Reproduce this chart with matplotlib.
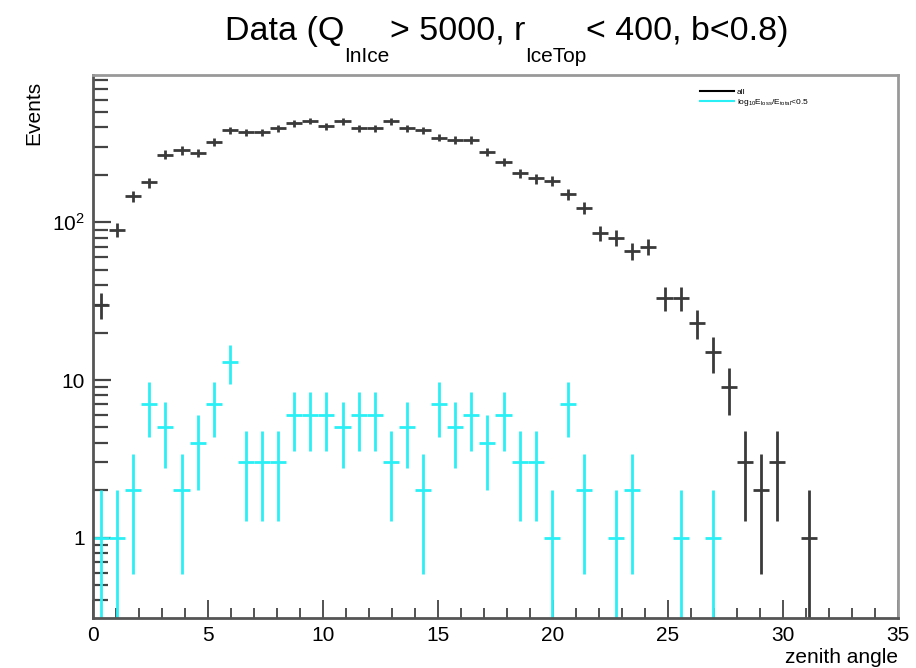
import numpy as np
import matplotlib
matplotlib.use("Agg")
import matplotlib.pyplot as plt
from matplotlib.lines import Line2D
from matplotlib.ticker import FixedLocator, NullFormatter

plt.rcParams["font.family"] = ["Liberation Sans", "DejaVu Sans"]
plt.rcParams["mathtext.fontset"] = "custom"
plt.rcParams["mathtext.rm"] = "Liberation Sans"
plt.rcParams["mathtext.it"] = "Liberation Sans"

# 50 bins of zenith angle from 0 to 35 deg
bin_edges = np.linspace(0, 35, 51)

counts_all = [
    30, 90, 146, 179, 269, 286, 277, 325, 385, 372,
    372, 394, 425, 441, 406, 437, 396, 394, 437, 394,
    385, 345, 332, 333, 279, 242, 205, 190, 184, 151,
    124, 85, 80, 66, 70, 33, 33, 23, 15, 9,
    3, 2, 3, 0, 1, 0, 0, 0, 0, 0,
]
counts_cut = [
    1, 1, 2, 7, 5, 2, 4, 7, 13, 3,
    3, 3, 6, 6, 6, 5, 6, 6, 3, 5,
    2, 7, 5, 6, 4, 6, 3, 3, 1, 7,
    2, 0, 1, 2, 0, 0, 1, 0, 1, 0,
    0, 0, 0, 0, 0, 0, 0, 0, 0, 0,
]

label_all = "all"
label_cut = r"log$_{10}$E$_{loss}$/E$_{total}$<0.5"
# title pieces: (text, is_subscript), drawn ROOT-style with low subscripts
title_parts = [("Data (Q", False), ("InIce", True), ("> 5000, r", False),
               ("IceTop", True), ("< 400, b<0.8)", False)]
ytick_values = [1, 10, 100]
ytick_labels = ["1", "10", r"10$^2$"]


def draw_hist(axis, counts, color):
    counts = np.asarray(counts, dtype=float)
    centers = 0.5 * (bin_edges[:-1] + bin_edges[1:])
    half_width = 0.5 * np.diff(bin_edges)
    keep = counts > 0
    err = np.sqrt(counts[keep])
    lower = np.minimum(err, counts[keep] - 1e-4)
    axis.errorbar(centers[keep], counts[keep], xerr=half_width[keep],
                  yerr=[lower, err], fmt="none", ecolor=color,
                  elinewidth=2.0, capsize=0)


def draw_title(fig, parts, center_px, baseline_px, size=24.5, sub_size=15, sub_drop=22):
    renderer = fig.canvas.get_renderer()
    w_px, h_px = fig.bbox.width, fig.bbox.height
    texts = []
    for text, is_sub in parts:
        t = fig.text(0, 0, text, fontsize=sub_size if is_sub else size,
                     va="baseline", ha="left")
        texts.append((t, is_sub))
    widths = [t.get_window_extent(renderer).width for t, _ in texts]
    x = center_px - sum(widths) / 2
    for (t, is_sub), w in zip(texts, widths):
        y = baseline_px + (sub_drop if is_sub else 0)
        t.set_position((x / w_px, 1 - y / h_px))
        x += w


fig = plt.figure(figsize=(9.16, 6.68), dpi=100)
ax = fig.add_axes([0.1015, 0.075, 0.8788, 0.8128])

draw_hist(ax, counts_all, "#3a3a3a")
draw_hist(ax, counts_cut, "#2af0f5")

ax.set_yscale("log")
ax.set_xlim(0, 35)
ax.set_ylim(0.31, 860)

ax.set_xticks([0, 5, 10, 15, 20, 25, 30, 35])
ax.set_xticks(np.arange(0, 35, 1), minor=True)
ax.set_yticks(ytick_values, labels=ytick_labels)
minor_y = [m * 10.0 ** e for e in range(-1, 3) for m in range(2, 10)]
ax.yaxis.set_minor_locator(FixedLocator(minor_y))
ax.yaxis.set_minor_formatter(NullFormatter())

ax.tick_params(which="both", direction="in", labelsize=15, color="#444444",
               top=False, right=False)
ax.tick_params(axis="x", which="major", length=13, width=1.3, pad=6)
ax.tick_params(axis="x", which="minor", length=7, width=1.3)
ax.tick_params(axis="y", which="major", length=13, width=1.6, pad=6)
ax.tick_params(axis="y", which="minor", length=11, width=1.6)

for name, spine in ax.spines.items():
    spine.set_linewidth(2.0)
    spine.set_color("#555555" if name in ("left", "bottom") else "#999999")

ax.set_xlabel("zenith angle", fontsize=15, loc="right", labelpad=2)
ax.set_ylabel("Events", fontsize=15, loc="top")
ax.yaxis.set_label_coords(-0.062, 0.99)

draw_title(fig, title_parts, center_px=507, baseline_px=40)

handles = [Line2D([], [], color="black", lw=1.5),
           Line2D([], [], color="#2af0f5", lw=1.5)]
ax.legend(handles, [label_all, label_cut], loc="upper left",
          bbox_to_anchor=(0.745, 0.99), frameon=False, fontsize=6,
          handlelength=4, labelspacing=0.1, handletextpad=0.4)

fig.savefig("out.png", dpi=100)
